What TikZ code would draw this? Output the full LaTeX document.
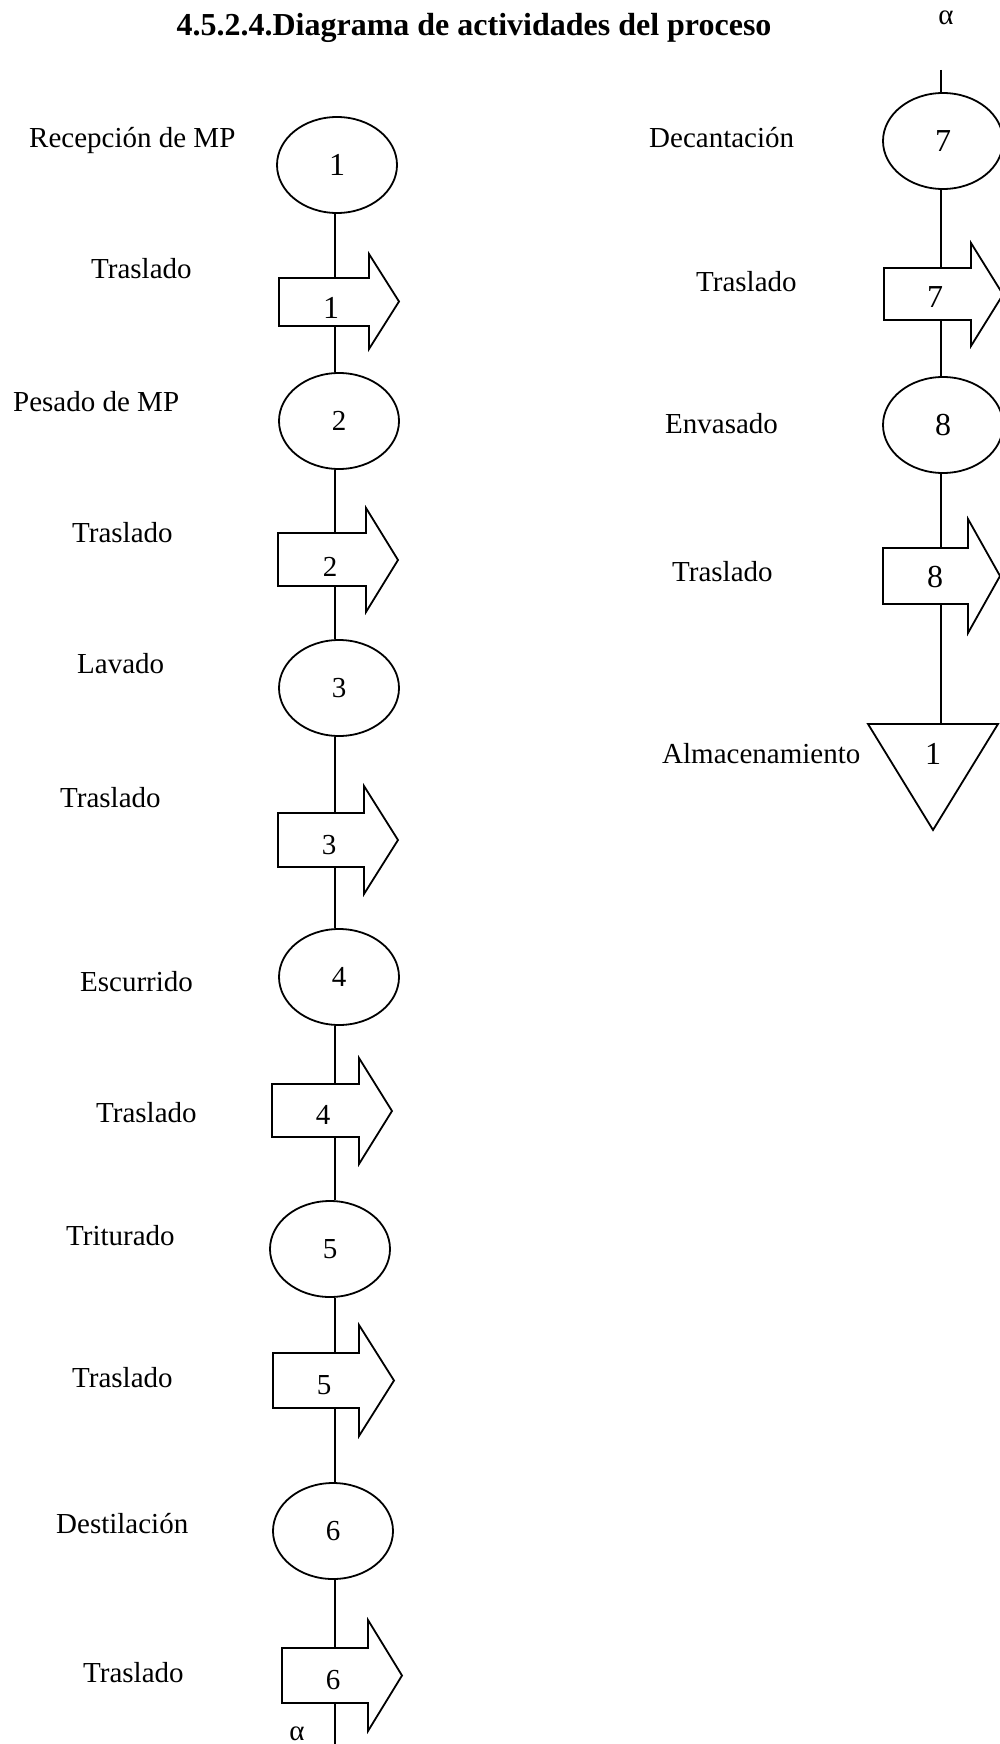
\documentclass[tikz,border=0pt]{standalone}
\usepackage{fontspec}
\setmainfont{Liberation Serif}
\usetikzlibrary{shapes.geometric}
\begin{document}
\begin{tikzpicture}[x=1pt,y=-1pt,
  ln/.style={line width=1.8pt, line join=miter},
  op/.style={ellipse, draw, line width=1.8pt, minimum width=120pt, minimum height=96pt,
             inner sep=0pt, font=\fontsize{29}{32}\selectfont},
  opbig/.style={op, font=\fontsize{32}{36}\selectfont},
  shaft/.style={rectangle, draw=none, inner sep=0pt, outer sep=0pt},
  num/.style={inner sep=0pt, font=\fontsize{29}{32}\selectfont},
  numbig/.style={inner sep=0pt, font=\fontsize{32}{36}\selectfont},
  lbl/.style={anchor=base west, inner sep=0pt, font=\fontsize{29}{34}\selectfont}]
\useasboundingbox (0,0) rectangle (1000,1744);
\clip (0,0) rectangle (1000,1744);

% title
\node[anchor=base, inner sep=0pt, font=\bfseries\fontsize{32}{38}\selectfont] (tit) at (474,36)
  {4.5.2.4.Diagrama de actividades del proceso};

% spines of both columns
\coordinate (xl) at (335,0);
\coordinate (xr) at (941,0);
\coordinate (fa) at (335,1744);
\coordinate (ia) at (941,70);

% operations
\node[opbig] (e1) at (337,165) {1};
\node[op] (e2) at (339,421) {2};
\node[op] (e3) at (339,688) {3};
\node[op] (e4) at (339,977) {4};
\node[op] (e5) at (330,1249) {5};
\node[op] (e6) at (333,1531) {6};
\node[opbig] (e7) at (943,141) {7};
\node[opbig] (e8) at (943,425) {8};

% transport arrows: name / shaft left / shaft right / shaft top / shaft bottom / head top / head bottom / tip
\foreach \nm/\xa/\xb/\ya/\yb/\yc/\yd/\xt in {
  a1/279/369/278/326/254/349/399,
  a2/278/366/533/586/508/612/398,
  a3/278/364/813/867/786/894/398,
  a4/272/359/1084/1137/1058/1164/392,
  a5/273/359/1353/1408/1325/1436/394,
  a6/282/368/1648/1703/1620/1731/402,
  a7/884/971/268/320/243/346/1003,
  a8/883/968/548/604/519/633/1000}
{
  \node[shaft, minimum width={(\xb-\xa)*1pt}, minimum height={(\yb-\ya)*1pt}]
    (\nm) at ({(\xa+\xb)/2},{(\ya+\yb)/2}) {};
  \draw[ln] (\nm.south east) -- (\nm.south west) -- (\nm.north west) -- (\nm.north east)
    -- (\xb,\yc) -- (\xt,{(\yc+\yd)/2}) -- (\xb,\yd) -- cycle;
}

% numbers in the arrows
\node[numbig] (n1) at (331,308) {1};
\node[num] (n2) at (330,567) {2};
\node[num] (n3) at (329,845) {3};
\node[num] (n4) at (323,1115) {4};
\node[num] (n5) at (324,1385) {5};
\node[num] (n6) at (333,1680) {6};
\node[numbig] (n7) at (935,297) {7};
\node[numbig] (n8) at (935,577) {8};

% storage
\node[shaft, minimum width=130pt, minimum height=106pt] (tri) at (933,777) {};
\draw[ln] (tri.north west) -- (tri.north east) -- (tri.south) -- cycle;
\node[numbig] (n9) at (933,754) {1};

% flow lines
\foreach \p/\q in {e1/a1,a1/e2,e2/a2,a2/e3,e3/a3,a3/e4,e4/a4,a4/e5,e5/a5,a5/e6,e6/a6}
  \draw[ln] (\p.south -| xl) -- (\q.north -| xl);
\draw[ln] (a6.south -| xl) -- (fa);
\draw[ln] (ia) -- (e7.north -| xr);
\foreach \p/\q in {e7/a7,a7/e8,e8/a8,a8/tri}
  \draw[ln] (\p.south -| xr) -- (\q.north -| xr);

% connector marks
\node[lbl, anchor=base] (al1) at (297,1740) {α};
\node[lbl, anchor=base] (al2) at (946,25) {α};

% activity names
\node[lbl] (l1) at (29,148) {Recepción de MP};
\node[lbl] (l2) at (91,278) {Traslado};
\node[lbl] (l3) at (13,411) {Pesado de MP};
\node[lbl] (l4) at (72,542) {Traslado};
\node[lbl] (l5) at (77,673) {Lavado};
\node[lbl] (l6) at (60,807) {Traslado};
\node[lbl] (l7) at (80,991) {Escurrido};
\node[lbl] (l8) at (96,1122) {Traslado};
\node[lbl] (l9) at (66,1245) {Triturado};
\node[lbl] (l10) at (72,1387) {Traslado};
\node[lbl] (l11) at (56,1533) {Destilación};
\node[lbl] (l12) at (83,1682) {Traslado};
\node[lbl] (l13) at (649,148) {Decantación};
\node[lbl] (l14) at (696,291) {Traslado};
\node[lbl] (l15) at (665,433) {Envasado};
\node[lbl] (l16) at (672,581) {Traslado};
\node[lbl] (l17) at (662,763) {Almacenamiento};
\end{tikzpicture}
\end{document}
